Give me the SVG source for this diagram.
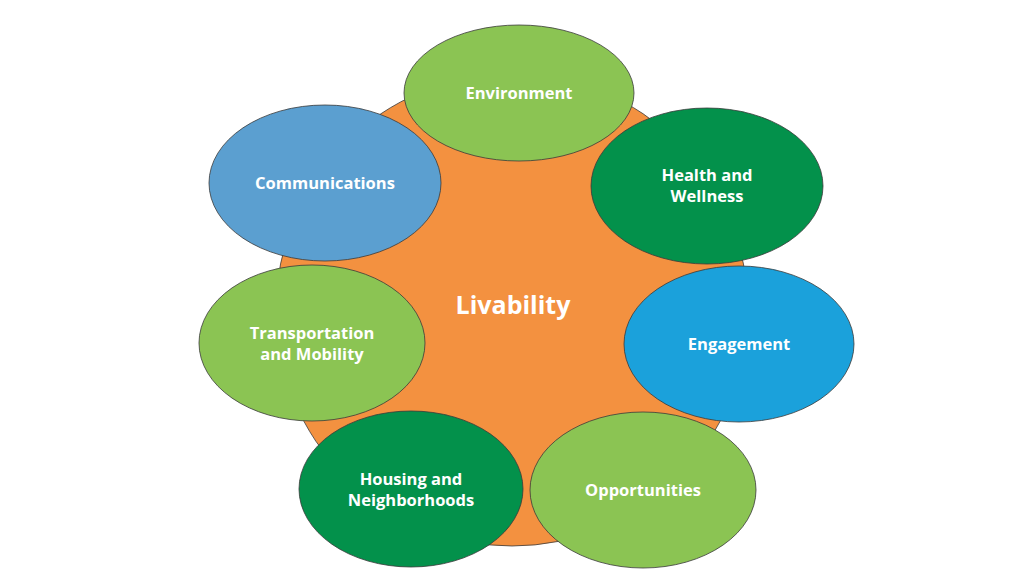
<svg xmlns="http://www.w3.org/2000/svg" width="1024" height="576" viewBox="0 0 1024 576">
<style>
.n{stroke:#3a3a3a;stroke-width:0.8}
.t{font-family:"Open Sans","Liberation Sans",sans-serif;font-weight:bold;font-size:16.5px;fill:#fff;text-anchor:middle}
.lg{fill:#8BC453}.dg{fill:#03914B}
</style>
<rect width="1024" height="576" fill="#fff"/>
<g id="livability"><circle cx="512" cy="310" r="236" fill="#F39140" class="n"/>
<text x="513" y="314" class="t" style="font-size:25px">Livability</text></g>
<g id="environment"><ellipse cx="519" cy="93" rx="115" ry="68" class="n lg"/><text x="519" y="99" class="t">Environment</text></g>
<g id="health"><ellipse cx="707" cy="186" rx="116" ry="78" class="n dg"/><text x="707" y="181" class="t">Health and</text><text x="707" y="202" class="t">Wellness</text></g>
<g id="engagement"><ellipse cx="739" cy="344" rx="115" ry="78" class="n" fill="#1BA1DB"/><text x="739" y="350" class="t">Engagement</text></g>
<g id="opportunities"><ellipse cx="643" cy="490" rx="113" ry="78" class="n lg"/><text x="643" y="496" class="t">Opportunities</text></g>
<g id="housing"><ellipse cx="411" cy="489" rx="112" ry="78" class="n dg"/><text x="411" y="485" class="t">Housing and</text><text x="411" y="506" class="t">Neighborhoods</text></g>
<g id="transportation"><ellipse cx="312" cy="343" rx="113" ry="78" class="n lg"/><text x="312" y="339" class="t">Transportation</text><text x="312" y="360" class="t">and Mobility</text></g>
<g id="communications"><ellipse cx="325" cy="183" rx="116" ry="78" class="n" fill="#5B9FD0"/><text x="325" y="189" class="t">Communications</text></g>
<g id="connectors"/>
</svg>
